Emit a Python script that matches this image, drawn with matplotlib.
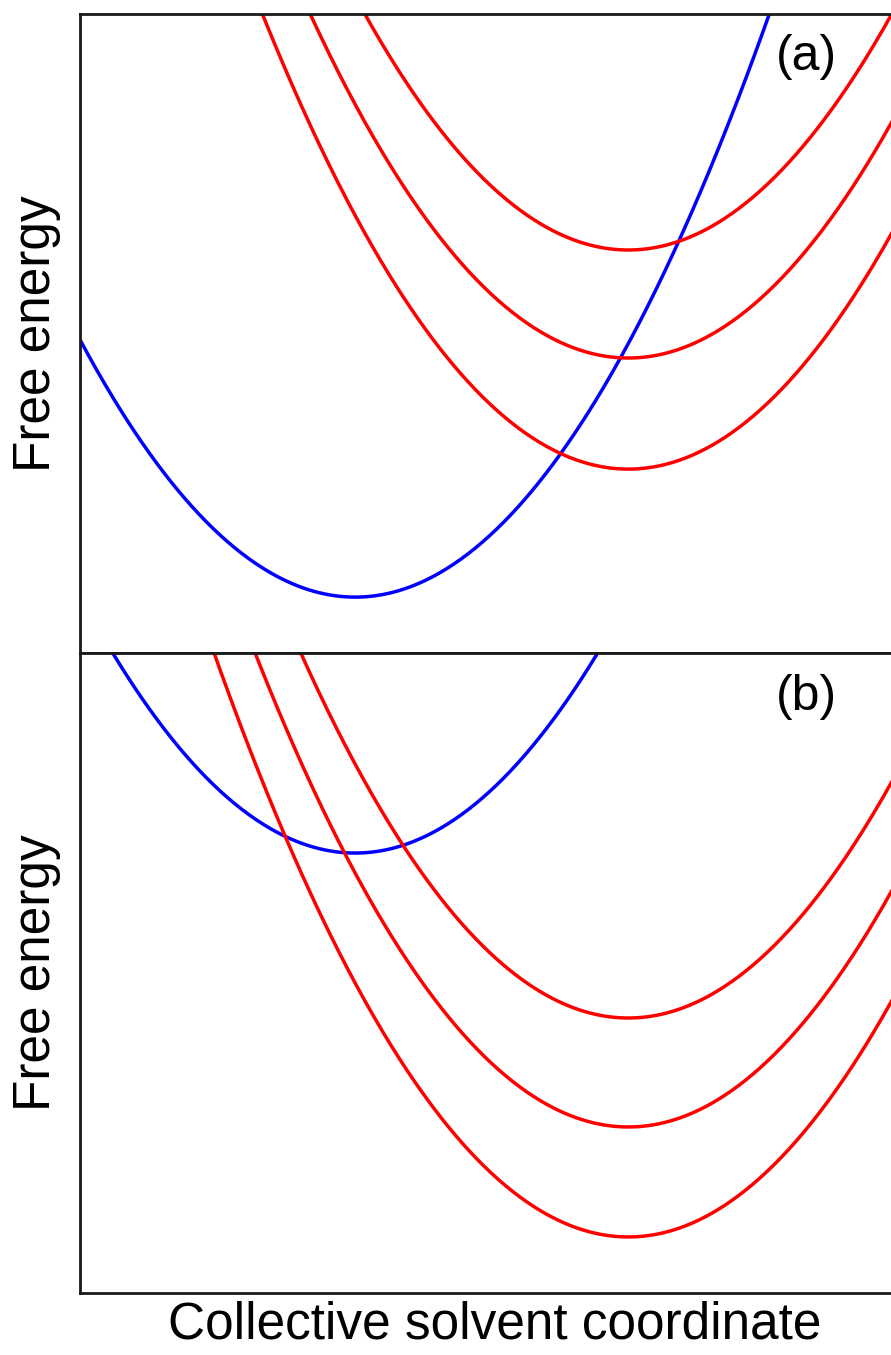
import numpy as np
import matplotlib.pyplot as plt

# parabola parameters (x in 0..10 across the frame, y in 0..10 per panel)
curvature = 0.358

# panel (a)
blue_a_center = 3.354
blue_a_min = 0.876
red_a_centers = [6.683, 6.683, 6.683]
red_a_mins = [6.307, 4.617, 2.879]

# panel (b)
blue_b_center = 3.354
blue_b_min = 6.875
red_b_centers = [6.683, 6.683, 6.683]
red_b_mins = [4.297, 2.594, 0.875]

panel_labels = ['(a)', '(b)']

plt.rcParams['font.family'] = ['Liberation Sans', 'DejaVu Sans']

fig = plt.figure(figsize=(8.91, 13.55), dpi=100)
ax_a = fig.add_axes([0.0898, 0.518, 0.93, 0.4717])
ax_b = fig.add_axes([0.0898, 0.0458, 0.93, 0.4722])

x = np.linspace(-1, 12, 600)


def parabola(center, minimum):
    return minimum + curvature * (x - center) ** 2


def setup(ax, label):
    ax.set_xlim(0, 10.1)
    ax.set_ylim(0, 10)
    ax.set_xticks([])
    ax.set_yticks([])
    for s in ax.spines.values():
        s.set_linewidth(2.0)
        s.set_color('#1a1a1a')
    ax.set_ylabel('Free energy', fontsize=37, labelpad=14)
    ax.text(8.86, 9.32, label, fontsize=36, ha='center', va='center')


lw = 2.5
ax_a.plot(x, parabola(blue_a_center, blue_a_min), color='#0000ff', lw=lw)
for c, m in zip(red_a_centers, red_a_mins):
    ax_a.plot(x, parabola(c, m), color='#ff0000', lw=lw)
setup(ax_a, panel_labels[0])

ax_b.plot(x, parabola(blue_b_center, blue_b_min), color='#0000ff', lw=lw)
for c, m in zip(red_b_centers, red_b_mins):
    ax_b.plot(x, parabola(c, m), color='#ff0000', lw=lw)
setup(ax_b, panel_labels[1])

# x label centred under the visible part of the frame
ax_b.set_xlabel('Collective solvent coordinate', fontsize=37)
ax_b.xaxis.set_label_coords(0.5008, -0.012)
ax_b.xaxis.label.set_va('top')

fig.savefig('out.png', dpi=100)
